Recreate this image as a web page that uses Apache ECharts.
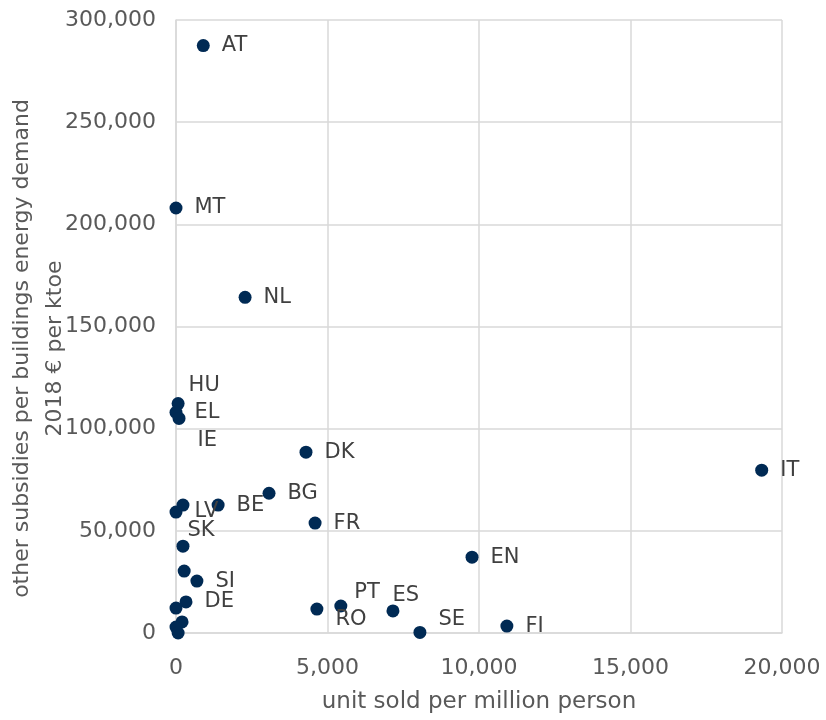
<!DOCTYPE html>
<html>
<head>
<meta charset="utf-8">
<script src="https://cdn.jsdelivr.net/npm/echarts@6/dist/echarts.min.js"></script>
<style>html,body{margin:0;padding:0;background:#fff}#c{width:826px;height:720px}</style>
</head>
<body>
<div id="c"></div>
<script>
const names = ['AT','MT','NL','HU','EL','IE','DK','IT','BG','BE','','LV','FR','SK','','SI','DE','','EN','PT','RO','ES','SE','FI','','',''];
const xValues = [900,0,2280,70,0,100,4290,19330,3070,1390,230,0,4590,230,270,690,330,0,9770,5440,4650,7160,8050,10920,200,0,70];
const yValues = [287500,208000,164300,112300,108000,105000,88500,79700,68400,62600,62600,59200,53800,42500,30300,25400,15200,12200,37100,13200,11700,10800,300,3400,5400,2900,0];
const xTicks = [0,5000,10000,15000,20000];
const yTicks = [0,50000,100000,150000,200000,250000,300000];

const labelOffsets = {HU:[-8,-18], IE:[0,22], SK:[-14,-16], PT:[-5,-13], ES:[-19,-15], RO:[0,10], SE:[0,-13]};
const FONT = 'DejaVu Sans';
const fmt = v => v.toLocaleString('en-US');

const data = names.map((n,i) => {
  const o = {name:n, value:[xValues[i], yValues[i]]};
  if (labelOffsets[n]) o.label = {offset: labelOffsets[n]};
  return o;
});

const chart = echarts.init(document.getElementById('c'));
chart.setOption({
  animation:false,
  grid:{left:176, right:44, top:20, bottom:87, containLabel:false, outerBoundsMode:'none'},
  xAxis:{
    type:'value', min:xTicks[0], max:xTicks[xTicks.length-1], interval:5000,
    name:'unit sold per million person', nameLocation:'middle', nameGap:58, nameMoveOverlap:false,
    nameTextStyle:{fontFamily:FONT, fontSize:23, color:'#595959'},
    axisLine:{show:true, lineStyle:{color:'#d9d9d9', width:1.5}},
    axisTick:{show:false},
    axisLabel:{fontFamily:FONT, fontSize:22, color:'#595959', margin:24, formatter:fmt},
    splitLine:{show:true, lineStyle:{color:'#d9d9d9', width:1.5}}
  },
  yAxis:{
    type:'value', min:yTicks[0], max:yTicks[yTicks.length-1], interval:50000,
    name:'other subsidies per buildings energy demand\n2018 € per ktoe', nameLocation:'middle', nameGap:104, nameMoveOverlap:false,
    nameTextStyle:{fontFamily:FONT, fontSize:22, color:'#595959', lineHeight:33, padding:[0,44,0,0]},
    axisLine:{show:true, lineStyle:{color:'#d9d9d9', width:1.5}},
    axisTick:{show:false},
    axisLabel:{fontFamily:FONT, fontSize:22, color:'#595959', margin:20, formatter:fmt},
    splitLine:{show:true, lineStyle:{color:'#d9d9d9', width:1.5}}
  },
  series:[{
    type:'scatter', symbolSize:13, itemStyle:{color:'#002a54', opacity:1},
    data:data,
    label:{show:true, position:'right', distance:12, formatter:p=>p.name,
      fontFamily:FONT, fontSize:21, color:'#404040'}
  }]
});
</script>
</body>
</html>
